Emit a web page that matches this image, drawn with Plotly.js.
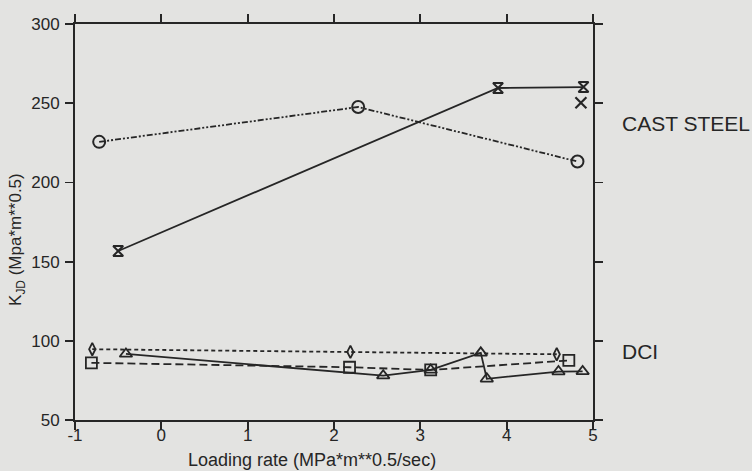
<!DOCTYPE html>
<html>
<head>
<meta charset="utf-8">
<script src="https://cdn.plot.ly/plotly-3.0.1.min.js"></script>
<style>
  html, body { margin: 0; padding: 0; background: #e3e3e1; }
  #chart { width: 752px; height: 471px; }
</style>
</head>
<body>
<div id="chart"></div>
<script>
// Cast steel series
const circleX = [-0.72, 2.28, 4.82];
const circleY = [225.6, 247.6, 213.2];
const hourglassX = [-0.50, 3.90, 4.89];
const hourglassY = [156.7, 259.6, 260.2];
const crossX = [4.86];
const crossY = [250.3];
// DCI series
const diamondX = [-0.80, 2.19, 4.58];
const diamondY = [94.7, 93.0, 91.5];
const squareX = [-0.81, 2.18, 3.12, 4.72];
const squareY = [86.1, 83.3, 81.6, 87.6];
const triangleX = [-0.41, 2.57, 3.12, 3.70, 3.77, 4.60, 4.88];
const triangleY = [91.7, 78.0, 81.6, 92.4, 76.0, 80.6, 80.7];
// Axes
const xTicks = [-1, 0, 1, 2, 3, 4, 5];
const yTicks = [50, 100, 150, 200, 250, 300];
const xTitle = "Loading rate (MPa*m**0.5/sec)";
const yTitle = "K<sub>JD</sub> (Mpa*m**0.5)";
const groupLabels = ["CAST STEEL", "DCI"];
const groupLabelY = [237, 93];

const ink = "#262626";
const font = "Liberation Sans, Arial, Helvetica, sans-serif";

const traces = [
  { x: circleX, y: circleY, mode: "lines+markers",
    line: { color: ink, width: 1.8, dash: "6px,2px,2px,2px,2px,2px" },
    marker: { symbol: "circle-open", size: 12, color: ink, line: { width: 2, color: ink } } },
  { x: hourglassX, y: hourglassY, mode: "lines+markers",
    line: { color: ink, width: 1.8 },
    marker: { symbol: "hourglass-open", size: 10, color: ink, line: { width: 2, color: ink } } },
  { x: crossX, y: crossY, mode: "markers",
    marker: { symbol: "x-thin-open", size: 11, color: ink, line: { width: 2.2, color: ink } } },
  { x: diamondX, y: diamondY, mode: "lines+markers",
    line: { color: ink, width: 1.8, dash: "4px,3px" },
    marker: { symbol: "diamond-tall-open", size: 9, color: ink, line: { width: 1.8, color: ink } } },
  { x: squareX, y: squareY, mode: "lines+markers",
    line: { color: ink, width: 1.8, dash: "8px,4px" },
    marker: { symbol: "square-open", size: 11, color: ink, line: { width: 1.8, color: ink } } },
  { x: triangleX, y: triangleY, mode: "lines+markers",
    line: { color: ink, width: 1.8 },
    marker: { symbol: "triangle-up-open", size: 11, color: ink, line: { width: 1.8, color: ink } } }
];

const annotations = groupLabels.map((t, i) => ({
  text: t, xref: "paper", yref: "y", x: 1.052, y: groupLabelY[i],
  xanchor: "left", yanchor: "middle", showarrow: false,
  font: { family: font, size: 21, color: ink }
}));
// axis titles placed as annotations to match the original's offsets
annotations.push({
  text: xTitle, xref: "x", yref: "paper", x: 1.74, y: -0.1,
  xanchor: "center", yanchor: "middle", showarrow: false,
  font: { family: font, size: 18, color: ink }
});
annotations.push({
  text: yTitle, xref: "paper", yref: "y", x: -0.111, y: 164,
  xanchor: "center", yanchor: "middle", textangle: -90, showarrow: false,
  font: { family: font, size: 17, color: ink }
});

const axisCommon = {
  showgrid: false, zeroline: false, showline: true, linecolor: ink, linewidth: 2,
  mirror: "ticks", ticks: "outside", ticklen: 8, tickwidth: 1.8, tickcolor: ink,
  tickfont: { family: font, size: 17, color: ink }
};

const layout = {
  width: 752, height: 471,
  margin: { l: 75, r: 159, t: 24, b: 51 },
  paper_bgcolor: "#e3e3e1", plot_bgcolor: "#e3e3e1",
  showlegend: false,
  font: { family: font, color: ink },
  xaxis: Object.assign({}, axisCommon, {
    range: [-1, 5], tickvals: xTicks, ticktext: xTicks.map(String),
    ticklabelstandoff: -9
  }),
  yaxis: Object.assign({}, axisCommon, {
    range: [50, 300], tickvals: yTicks, ticktext: yTicks.map(String),
    ticklabelstandoff: 2
  }),
  annotations: annotations
};

Plotly.newPlot("chart", traces, layout, { displayModeBar: false, staticPlot: true });
</script>
</body>
</html>
